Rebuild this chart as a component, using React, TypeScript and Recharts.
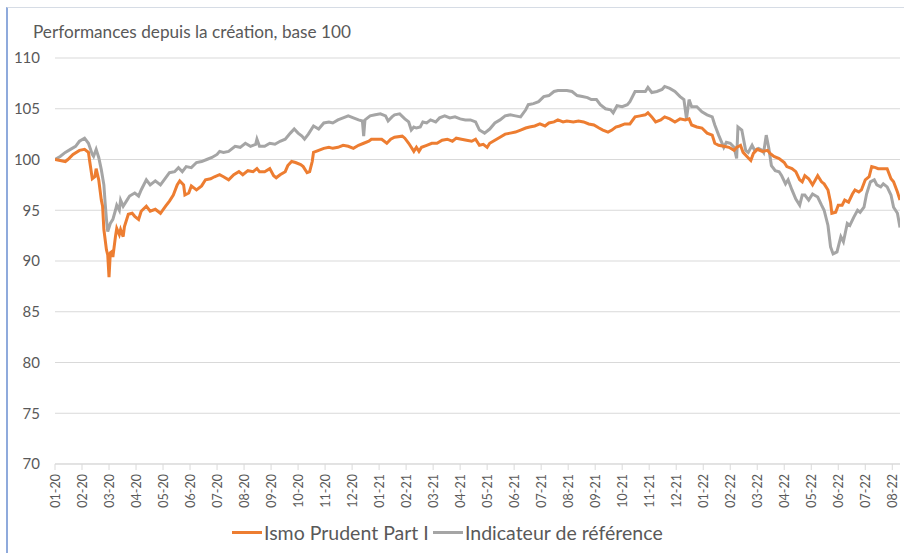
import React from "react";
import { LineChart, Line, XAxis, YAxis, CartesianGrid } from "recharts";

const title = "Performances depuis la création, base 100";
const seriesNames = ["Ismo Prudent Part I", "Indicateur de référence"];
const seriesColors = ["#ED7D31", "#A5A5A5"];

const tickLabels = [
  "01-20", "02-20", "03-20", "04-20", "05-20", "06-20", "07-20", "08-20", "09-20", "10-20", "11-20", "12-20",
  "01-21", "02-21", "03-21", "04-21", "05-21", "06-21", "07-21", "08-21", "09-21", "10-21", "11-21", "12-21",
  "01-22", "02-22", "03-22", "04-22", "05-22", "06-22", "07-22", "08-22",
];
const sessionsPerLabel = 21;
const lastSession = 657;
const yTicks = [70, 75, 80, 85, 90, 95, 100, 105, 110];

// trading-session index since launch
const ismoSessions = [
  0, 4, 8, 10, 14, 19, 23, 26, 27, 29,
  31, 32, 34, 36, 37, 38, 40, 41, 42, 43,
  44, 45, 47, 48, 50, 51, 53, 54, 57, 60,
  62, 65, 67, 71, 74, 78, 82, 86, 89, 92,
  95, 97, 100, 101, 104, 106, 110, 114, 117, 121,
  124, 128, 131, 135, 139, 143, 146, 150, 154, 157,
  159, 163, 167, 170, 172, 175, 179, 181, 184, 187,
  191, 193, 196, 198, 200, 201, 205, 209, 213, 216,
  220, 224, 228, 232, 236, 240, 244, 246, 250, 254,
  258, 261, 264, 270, 272, 275, 277, 279, 281, 283,
  285, 289, 293, 297, 301, 305, 309, 312, 316, 320,
  324, 327, 330, 333, 336, 338, 342, 346, 350, 354,
  358, 362, 366, 369, 373, 377, 381, 384, 388, 391,
  395, 398, 403, 407, 411, 415, 419, 423, 426, 430,
  433, 436, 439, 443, 447, 451, 455, 459, 461, 464,
  467, 471, 474, 478, 482, 486, 490, 493, 495, 499,
  503, 507, 511, 513, 516, 520, 524, 528, 530, 533,
  535, 538, 541, 543, 546, 550, 554, 556, 559, 563,
  567, 569, 573, 576, 579, 581, 583, 586, 589, 593,
  596, 598, 601, 603, 604, 607, 609, 612, 614, 617,
  620, 622, 625, 627, 630, 633, 635, 638, 640, 643,
  647, 650, 652, 655, 657,
];
const ismoValues = [
  100.0, 99.9, 99.8, 100.0, 100.5, 100.9, 101.0, 100.7, 99.8, 98.1,
  98.3, 99.1, 98.0, 96.0, 95.4, 93.1, 91.1, 90.6, 88.4, 90.8,
  90.9, 90.4, 92.4, 93.2, 92.6, 93.1, 92.4, 93.4, 94.6, 94.7,
  94.4, 94.1, 94.9, 95.4, 94.9, 95.1, 94.7, 95.4, 95.9, 96.5,
  97.5, 97.9, 97.5, 96.5, 96.7, 97.4, 97.0, 97.4, 98.0, 98.1,
  98.3, 98.5, 98.3, 98.0, 98.5, 98.8, 98.5, 98.9, 98.8, 99.1,
  98.8, 98.8, 99.1, 98.4, 98.2, 98.5, 98.8, 99.4, 99.8, 99.7,
  99.5, 99.3, 98.7, 98.8, 99.8, 100.7, 100.9, 101.1, 101.2, 101.1,
  101.2, 101.4, 101.3, 101.1, 101.4, 101.6, 101.8, 102.0, 102.0, 102.0,
  101.6, 102.0, 102.2, 102.3, 102.1, 101.6, 101.2, 100.8, 101.2, 100.8,
  101.2, 101.4, 101.6, 101.6, 101.9, 102.0, 101.8, 102.1, 102.0, 101.9,
  101.8, 102.0, 101.4, 101.5, 101.2, 101.6, 101.9, 102.2, 102.5, 102.6,
  102.7, 102.9, 103.1, 103.2, 103.3, 103.5, 103.3, 103.6, 103.7, 103.9,
  103.7, 103.8, 103.7, 103.8, 103.7, 103.5, 103.4, 103.1, 102.9, 102.7,
  102.9, 103.2, 103.3, 103.5, 103.5, 104.2, 104.3, 104.4, 104.6, 104.2,
  103.7, 103.9, 104.2, 104.0, 103.7, 104.0, 103.9, 104.0, 103.4, 103.2,
  103.1, 102.6, 102.4, 101.6, 101.4, 101.3, 101.2, 100.9, 101.2, 101.4,
  100.7, 100.3, 99.9, 100.6, 101.0, 100.8, 100.9, 100.6, 100.3, 100.1,
  99.7, 99.3, 99.1, 98.8, 98.0, 97.8, 98.4, 98.1, 97.5, 98.4,
  97.8, 97.6, 97.0, 95.8, 94.7, 94.8, 95.5, 95.5, 96.0, 95.8,
  96.6, 97.0, 96.8, 97.0, 98.0, 98.3, 99.3, 99.2, 99.1, 99.1,
  99.1, 98.1, 97.8, 96.8, 96.0,
];

const refSessions = [
  0, 4, 8, 12, 16, 19, 23, 26, 29, 30,
  32, 34, 36, 38, 39, 40, 41, 43, 45, 47,
  48, 50, 51, 53, 56, 58, 62, 65, 67, 71,
  74, 78, 82, 86, 89, 93, 96, 99, 102, 106,
  110, 114, 118, 122, 126, 128, 131, 135, 140, 144,
  148, 152, 156, 157, 159, 163, 167, 171, 175, 179,
  183, 186, 189, 192, 194, 197, 201, 205, 209, 213,
  216, 220, 224, 228, 232, 236, 239, 240, 241, 245,
  249, 253, 257, 259, 262, 264, 268, 272, 275, 277,
  279, 281, 284, 286, 289, 292, 296, 299, 303, 307,
  311, 315, 319, 323, 327, 330, 334, 338, 342, 346,
  350, 354, 358, 362, 366, 368, 372, 376, 380, 384,
  388, 391, 395, 398, 402, 406, 410, 414, 417, 421,
  424, 428, 432, 434, 437, 441, 445, 447, 451, 455,
  459, 461, 464, 468, 472, 474, 478, 482, 486, 489,
  491, 493, 495, 499, 503, 507, 511, 513, 516, 520,
  522, 525, 528, 530, 531, 534, 537, 539, 542, 544,
  547, 550, 551, 553, 555, 557, 560, 563, 565, 568,
  570, 573, 576, 579, 581, 583, 586, 589, 593, 596,
  598, 601, 603, 605, 608, 611, 613, 616, 618, 621,
  624, 626, 629, 631, 634, 637, 639, 642, 644, 647,
  650, 652, 655, 657,
];
const refValues = [
  100.0, 100.3, 100.7, 101.0, 101.3, 101.8, 102.1, 101.6, 100.5, 100.3,
  101.0, 100.2, 99.0, 97.5, 95.7, 94.1, 92.9, 93.7, 94.1, 95.0,
  95.5, 95.0, 96.0, 95.4, 96.0, 96.4, 96.7, 96.4, 97.0, 98.0,
  97.5, 97.9, 97.5, 98.2, 98.7, 98.8, 99.2, 98.8, 99.3, 99.2,
  99.7, 99.8, 100.0, 100.2, 100.5, 100.8, 100.7, 100.8, 101.3, 101.2,
  101.6, 101.3, 101.5, 102.0, 101.3, 101.3, 101.6, 101.5, 101.8, 102.0,
  102.6, 103.0, 102.6, 102.3, 102.0, 102.5, 103.3, 103.0, 103.6, 103.7,
  103.6, 103.9, 104.1, 104.3, 104.1, 103.9, 103.8, 102.3, 103.9, 104.3,
  104.4, 104.5, 104.3, 103.8, 104.2, 104.4, 104.5, 104.0, 103.7, 102.9,
  103.2, 103.1, 103.2, 103.7, 103.6, 103.9, 103.7, 104.1, 104.3, 104.1,
  104.2, 104.0, 103.9, 103.9, 103.7, 102.9, 102.6, 103.0, 103.6, 103.9,
  104.3, 104.4, 104.3, 104.2, 104.9, 105.4, 105.5, 105.7, 106.2, 106.3,
  106.7, 106.8, 106.8, 106.8, 106.7, 106.3, 106.2, 106.1, 105.9, 105.9,
  105.4, 105.0, 104.9, 104.6, 105.3, 105.2, 105.4, 105.7, 106.7, 106.7,
  106.7, 107.1, 106.6, 106.7, 106.9, 107.2, 107.0, 106.7, 106.2, 105.9,
  104.0, 105.9, 105.2, 105.2, 104.7, 104.4, 104.2, 103.4, 102.4, 101.2,
  101.7, 101.6, 101.2, 100.1, 103.2, 102.9, 100.9, 100.7, 101.4, 100.9,
  101.1, 100.9, 100.7, 102.4, 101.1, 99.4, 98.9, 98.8, 98.4, 97.6,
  98.0, 97.0, 96.1, 95.5, 96.5, 96.5, 96.0, 96.6, 96.3, 95.5,
  95.0, 93.5, 91.4, 90.7, 90.9, 92.4, 91.9, 93.7, 93.5, 94.3,
  95.0, 94.8, 95.3, 96.6, 97.8, 98.0, 97.5, 97.3, 97.6, 97.3,
  96.5, 95.3, 94.7, 93.3,
];

const ismoData = ismoSessions.map((s, i) => ({ s, v: ismoValues[i] }));
const refData = refSessions.map((s, i) => ({ s, v: refValues[i] }));
const xTicks = tickLabels.map((_, k) => k * sessionsPerLabel);

const FONT = "Lato, 'Open Sans', sans-serif";
const TEXT = "#595959";

const XTick = (props: any) => {
  const { x, y, payload } = props;
  const k = Math.round(payload.value / sessionsPerLabel);
  return (
    <text
      x={x}
      y={y}
      transform={`rotate(-90, ${x}, ${y})`}
      textAnchor="end"
      dominantBaseline="central"
      fill={TEXT}
      fontSize={12.5}
      fontFamily={FONT}
    >
      {tickLabels[k]}
    </text>
  );
};

export default function App() {
  return (
    <div style={{ position: "fixed", left: 0, top: 0, width: 904, height: 553, background: "#fff", fontFamily: FONT }}>
      <div
        style={{
          position: "absolute",
          left: 6,
          top: 7,
          width: 898,
          height: 546,
          borderLeft: "2px solid #8FAADC",
          borderTop: "1px solid #D6DCE5",
          boxSizing: "border-box",
        }}
      />
      <div style={{ position: "absolute", left: 33, top: 21, fontSize: 17.2, color: TEXT, whiteSpace: "nowrap" }}>{title}</div>
      <div style={{ position: "absolute", left: 0, top: 0 }}>
        <LineChart width={904} height={553} margin={{ top: 58, right: 4, bottom: 39, left: 0 }}>
          <CartesianGrid vertical={false} stroke="#D9D9D9" />
          <XAxis
            type="number"
            dataKey="s"
            domain={[0, lastSession]}
            ticks={xTicks}
            interval={0}
            height={50}
            tick={<XTick />}
            tickSize={6}
            tickMargin={4}
            stroke="#D9D9D9"
            allowDataOverflow
          />
          <YAxis
            type="number"
            domain={[70, 110]}
            ticks={yTicks}
            width={55}
            axisLine={false}
            tickLine={false}
            tickSize={0}
            tickMargin={15}
            tick={{ fill: TEXT, fontSize: 15, fontFamily: FONT }}
          />
          <Line
            data={refData}
            dataKey="v"
            type="linear"
            stroke={seriesColors[1]}
            strokeWidth={3}
            dot={false}
            isAnimationActive={false}
            name={seriesNames[1]}
          />
          <Line
            data={ismoData}
            dataKey="v"
            type="linear"
            stroke={seriesColors[0]}
            strokeWidth={3}
            dot={false}
            isAnimationActive={false}
            name={seriesNames[0]}
          />
        </LineChart>
      </div>
      <div
        style={{
          position: "absolute",
          left: 232,
          top: 521,
          display: "flex",
          alignItems: "center",
          fontSize: 19.5,
          color: TEXT,
          whiteSpace: "nowrap",
        }}
      >
        {seriesNames.map((n, i) => (
          <div key={n} style={{ display: "flex", alignItems: "center", width: i === 0 ? 201 : "auto" }}>
            <span style={{ display: "inline-block", width: 30, height: 3, background: seriesColors[i], marginRight: 2 }} />
            <span>{n}</span>
          </div>
        ))}
      </div>
    </div>
  );
}
